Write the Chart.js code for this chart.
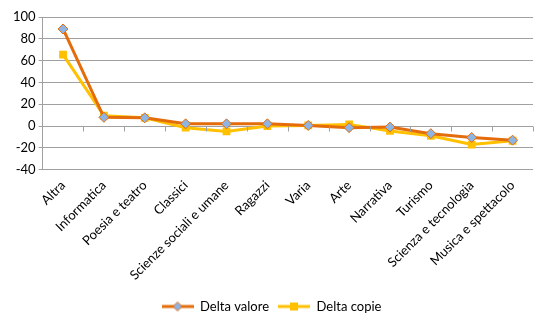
<!DOCTYPE html>
<html>
<head>
<meta charset="UTF-8">
<title>Delta valore e copie</title>
<script src="https://cdn.jsdelivr.net/npm/chart.js"></script>
<style>
    html, body { margin: 0; padding: 0; background: #fff; }
    #wrap { width: 550px; height: 330px; }
</style>
</head>
<body>
<div id="wrap"><canvas id="chart"></canvas></div>
<script>
    const categories = ["Altra", "Informatica", "Poesia e teatro", "Classici", "Scienze sociali e umane",
        "Ragazzi", "Varia", "Arte", "Narrativa", "Turismo", "Scienza e tecnologia", "Musica e spettacolo"];
    const deltaValore = [89, 8, 7.5, 2, 2, 2, 0.5, -1.5, -1, -7, -10.5, -13];
    const deltaCopie = [65.5, 9.5, 7.5, -1.5, -5, 0, 0.5, 1.5, -4.5, -9, -17, -13.5];
    const yTicks = [-40, -20, 0, 20, 40, 60, 80, 100];

    const orange = "#E46C0A";
    const yellow = "#FFC000";
    const grid = "#A0A0A0";

    // legend swatch: line with the marker in the middle
    function swatch(color, marker) {
        const c = document.createElement("canvas");
        c.width = 32; c.height = 12;
        const g = c.getContext("2d");
        g.strokeStyle = color; g.lineWidth = 3;
        g.beginPath(); g.moveTo(0, 6); g.lineTo(32, 6); g.stroke();
        if (marker === "diamond") {
            g.fillStyle = "#8DB4E2"; g.strokeStyle = orange; g.lineWidth = 1;
            g.beginPath(); g.moveTo(16, 1.5); g.lineTo(20.5, 6); g.lineTo(16, 10.5); g.lineTo(11.5, 6); g.closePath();
            g.fill(); g.stroke();
        } else {
            g.fillStyle = color;
            g.fillRect(12, 2, 8, 8);
        }
        return c;
    }

    // small tick marks on the zero line between categories
    const zeroTicks = {
        id: "zeroTicks",
        afterDraw(chart) {
            const x = chart.scales.x, y = chart.scales.y, ctx = chart.ctx;
            const y0 = Math.round(y.getPixelForValue(0)) + 0.5;
            ctx.save();
            ctx.strokeStyle = grid; ctx.lineWidth = 1;
            ctx.beginPath();
            for (let i = 1; i <= categories.length; i++) {
                const px = Math.round(x.getPixelForValue(i - 0.5)) + 0.5;
                ctx.moveTo(px, y0); ctx.lineTo(px, y0 + 5);
            }
            ctx.stroke();
            ctx.restore();
        }
    };

    new Chart(document.getElementById("chart"), {
        type: "line",
        data: {
            labels: categories,
            datasets: [{
                label: "Delta valore",
                data: deltaValore,
                borderColor: orange,
                backgroundColor: "#8DB4E2",
                borderWidth: 3,
                pointStyle: "rectRot",
                pointRadius: 5,
                pointBorderWidth: 1,
                pointBorderColor: orange,
                pointBackgroundColor: "#8DB4E2",
                tension: 0
            }, {
                label: "Delta copie",
                data: deltaCopie,
                borderColor: yellow,
                backgroundColor: yellow,
                borderWidth: 3,
                pointStyle: "rect",
                pointRadius: 5.5,
                pointBorderWidth: 0,
                pointBackgroundColor: yellow,
                tension: 0
            }]
        },
        options: {
            responsive: true,
            maintainAspectRatio: false,
            animation: false,
            layout: { padding: { left: 10, right: 17, top: 17, bottom: 7 } },
            plugins: {
                tooltip: { enabled: false },
                legend: {
                    position: "bottom",
                    labels: {
                        font: { family: "Lato", size: 13 },
                        color: "#000",
                        usePointStyle: true,
                        pointStyleWidth: 32,
                        padding: 9,
                        generateLabels(chart) {
                            return chart.data.datasets.map((d, i) => ({
                                text: d.label,
                                datasetIndex: i,
                                pointStyle: swatch(d.borderColor, i === 0 ? "diamond" : "square"),
                                fontColor: "#000",
                                lineWidth: 0
                            }));
                        }
                    }
                }
            },
            scales: {
                x: {
                    offset: true,
                    grid: { display: false, drawTicks: false, offset: true },
                    border: { display: false },
                    ticks: {
                        minRotation: 45, maxRotation: 45,
                        padding: 8,
                        color: "#000",
                        font: { family: "Lato", size: 13 }
                    }
                },
                y: {
                    min: -40, max: 100,
                    afterBuildTicks(axis) { axis.ticks = yTicks.map(v => ({ value: v })); },
                    grid: { color: grid, tickLength: 4 },
                    border: { display: true, color: grid },
                    ticks: {
                        padding: 3,
                        color: "#000",
                        font: { family: "Lato", size: 13 }
                    }
                }
            }
        },
        plugins: [zeroTicks]
    });
</script>
</body>
</html>
